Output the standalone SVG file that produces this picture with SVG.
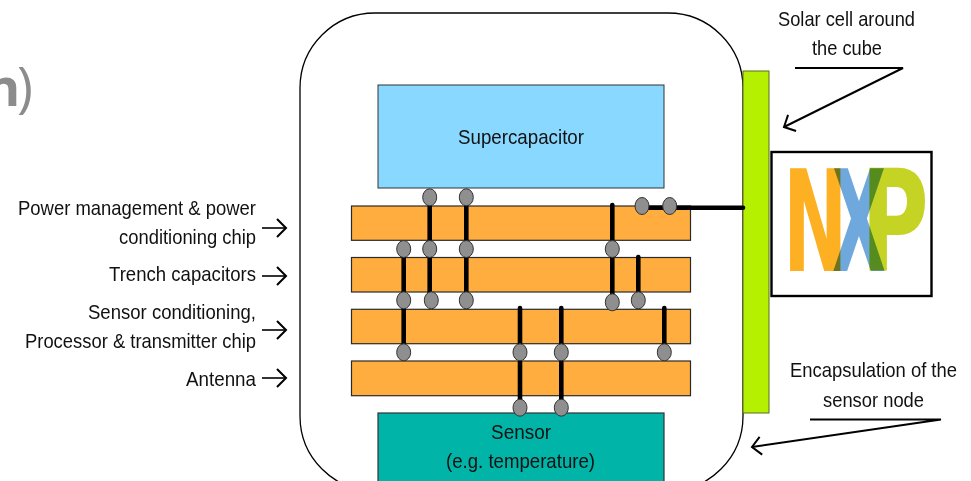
<svg xmlns="http://www.w3.org/2000/svg" width="971" height="481" viewBox="0 0 971 481">
<style>
text{font-family:"Liberation Sans",Arial,sans-serif;font-size:21px;fill:#111}
.bar{fill:#ffad3f;stroke:#2a2a2a;stroke-width:1.2}
.via{fill:none;stroke:#000;stroke-width:4.6;stroke-linecap:round}
.pad{fill:#8f8f8f;stroke:#333;stroke-width:1}
.arr{fill:none;stroke:#000;stroke-width:1.6;marker-end:url(#open)}
.lead{fill:none;stroke:#000;stroke-width:2;stroke-linejoin:miter;marker-end:url(#open)}
.logo{font-family:"DejaVu Sans",sans-serif;font-weight:700;font-size:140px;mix-blend-mode:multiply}
</style>
<defs>
<marker id="open" markerUnits="userSpaceOnUse" markerWidth="24" markerHeight="24" refX="20" refY="12" orient="auto">
<path d="M11 3L20 12L11 21" fill="none" stroke="#000" stroke-width="2"/>
</marker>
</defs>
<rect width="971" height="481" fill="#fff"/>
<g id="title-fragment">
<text x="-14" y="106" style="font-family:'Open Sans',sans-serif;font-size:52px;font-weight:700;fill:#8c8c8c">n</text>
<text x="17" y="106" style="font-family:'Open Sans',sans-serif;font-size:54px;font-weight:400;fill:#8c8c8c">)</text>
</g>
<g id="encapsulation"><rect x="300" y="13" width="443" height="478" rx="75" ry="75" fill="#fff" stroke="#000" stroke-width="1.3"/></g>
<g id="solar-cell"><rect x="743" y="71" width="26" height="342" fill="#b5f000" stroke="#5a6a20" stroke-width="1"/></g>
<g id="supercapacitor"><rect x="378" y="85" width="286" height="103" fill="#88d8ff" stroke="#333" stroke-width="1"/>
<text x="458" y="144" textLength="126" lengthAdjust="spacingAndGlyphs">Supercapacitor</text></g>
<g id="sensor"><rect x="378" y="413" width="286" height="80" fill="#00b4a8" stroke="#333" stroke-width="1.2"/>
<text x="491" y="439" textLength="60" lengthAdjust="spacingAndGlyphs">Sensor</text>
<text x="446" y="468" textLength="149" lengthAdjust="spacingAndGlyphs">(e.g. temperature)</text></g>
<g id="chip-power"><rect class="bar" x="351.500" y="206" width="339" height="34.300"/></g>
<g id="chip-trench"><rect class="bar" x="351.500" y="257.500" width="339" height="34.500"/></g>
<g id="chip-processor"><rect class="bar" x="351.500" y="309.300" width="339" height="34.400"/></g>
<g id="chip-antenna"><rect class="bar" x="351.500" y="361" width="339" height="34.700"/></g>
<g id="logo">
<rect x="771.500" y="152" width="160" height="144" fill="#fff" stroke="#000" stroke-width="2.4"/>
<text class="logo" style="fill:#fdb022" transform="translate(783,270.500) scale(.55,1)">N</text>
<text class="logo" style="fill:#6fa8dc" transform="translate(832,270.500) scale(.5,1)">X</text>
<text class="logo" style="fill:#c5d324" transform="translate(861,270.500) scale(.66,1)">P</text>
</g>
<g id="connectors">
<path class="via" d="M429.700 197V300M466.300 197V300M612.300 205V302M638.300 257V300M403.700 249V352M520 308V352M561.300 308V352M664.300 308V352M520 362V407M561.300 362V407M645 207.700H743"/>
<path class="arr" d="M262 228H286"/>
<path class="arr" d="M262 276H286"/>
<path class="arr" d="M262 330H286"/>
<path class="arr" d="M262 378H286"/>
<path class="lead" d="M795 68H903L784 127"/>
<path class="lead" d="M810 419.500H941L752 447"/>
</g>
<g id="pads">
<ellipse class="pad" cx="429.700" cy="197.300" rx="7" ry="8.500"/><ellipse class="pad" cx="466.300" cy="197.300" rx="7" ry="8.500"/>
<ellipse class="pad" cx="642" cy="206" rx="7" ry="8.500"/><ellipse class="pad" cx="669.700" cy="206" rx="7" ry="8.500"/>
<ellipse class="pad" cx="403.700" cy="249" rx="7" ry="8.500"/><ellipse class="pad" cx="429.700" cy="249" rx="7" ry="8.500"/><ellipse class="pad" cx="466.300" cy="249" rx="7" ry="8.500"/><ellipse class="pad" cx="612.300" cy="249" rx="7" ry="8.500"/>
<ellipse class="pad" cx="403.700" cy="300.300" rx="7" ry="8.500"/><ellipse class="pad" cx="431.300" cy="300.300" rx="7" ry="8.500"/><ellipse class="pad" cx="466.300" cy="300.300" rx="7" ry="8.500"/><ellipse class="pad" cx="612.300" cy="302.300" rx="7" ry="8.500"/><ellipse class="pad" cx="638.300" cy="300.300" rx="7" ry="8.500"/>
<ellipse class="pad" cx="403.700" cy="352.300" rx="7" ry="8.500"/><ellipse class="pad" cx="520" cy="352.300" rx="7" ry="8.500"/><ellipse class="pad" cx="561.300" cy="352.300" rx="7" ry="8.500"/><ellipse class="pad" cx="664.300" cy="352.300" rx="7" ry="8.500"/>
<ellipse class="pad" cx="520" cy="407.700" rx="7" ry="8.500"/><ellipse class="pad" cx="561.300" cy="407.700" rx="7" ry="8.500"/>
</g>
<g id="labels">
<text x="18" y="215" textLength="238" lengthAdjust="spacingAndGlyphs">Power management &amp; power</text>
<text x="119" y="244" textLength="137" lengthAdjust="spacingAndGlyphs">conditioning chip</text>
<text x="109" y="281" textLength="147" lengthAdjust="spacingAndGlyphs">Trench capacitors</text>
<text x="88" y="319" textLength="168" lengthAdjust="spacingAndGlyphs">Sensor conditioning,</text>
<text x="25" y="348" textLength="231" lengthAdjust="spacingAndGlyphs">Processor &amp; transmitter chip</text>
<text x="186" y="386" textLength="70" lengthAdjust="spacingAndGlyphs">Antenna</text>
<text x="778" y="26" textLength="137" lengthAdjust="spacingAndGlyphs">Solar cell around</text>
<text x="812" y="55" textLength="70" lengthAdjust="spacingAndGlyphs">the cube</text>
<text x="790" y="377" textLength="167" lengthAdjust="spacingAndGlyphs">Encapsulation of the</text>
<text x="823" y="407" textLength="101" lengthAdjust="spacingAndGlyphs">sensor node</text>
</g>
</svg>
